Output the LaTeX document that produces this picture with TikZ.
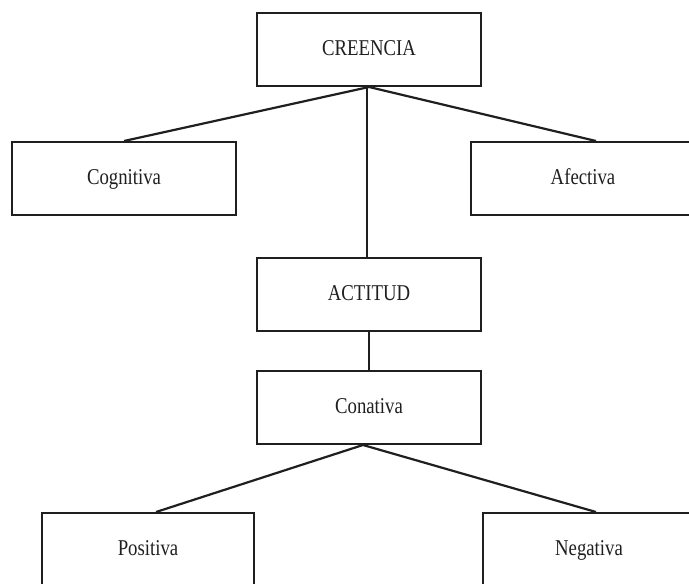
\documentclass[tikz,border=0pt]{standalone}
\usepackage{fontspec}
\setmainfont[FakeStretch=0.83]{Liberation Serif}
\usepackage{tikz}
\usetikzlibrary{positioning}
\usepackage{xcolor}
\definecolor{RichInk}{gray}{0.12}
\tikzset{%
  concept_block/.style={%
    draw=RichInk,%
    rectangle,%
    line width=1pt,%
    minimum width=112pt,%
    minimum height=36.5pt,%
    inner sep=0pt,%
    text height=8pt,%
    text depth=2pt,%
    font={\fontsize{11.3}{13}\selectfont},%
    text=RichInk,%
    align=center,%
  },
  leaf_block/.style={%
    concept_block,%
    minimum width=106pt,%
  },
  link_path/.style={%
    color=RichInk,%
    line join=round,%
    line width=1.1pt,%
  },
}
\begin{document}
\begin{tikzpicture}[x=0.5pt, y=-0.5pt]

    \useasboundingbox (0,0) rectangle (689,583);
    \clip (0,0) rectangle (689,583);

    \node [concept_block] (Creencia) at (369,49.5) {CREENCIA};
    \node [concept_block, below = 85pt of Creencia] (Actitud) {ACTITUD};
    \node [concept_block, below = 19pt of Actitud] (Conativa) {Conativa};
    \node [concept_block, below left = 27pt and 9.5pt of Creencia] (Cognitiva) {%
      Cognitiva%
    };
    \node [concept_block, below right = 27pt and -6pt of Creencia] (Afectiva) {%
      Afectiva%
    };
    \node [leaf_block, below left = 33.5pt and 0.5pt of Conativa] (Positiva) {%
      Positiva%
    };
    \node [leaf_block, below right = 33.5pt and 0pt of Conativa] (Negativa) {%
      Negativa%
    };

    \draw [link_path]
      (Creencia.south)
      --
      (Cognitiva.north);
    \draw [link_path]
      (Creencia.south)
      --
      ([xshift=6.5pt]Afectiva.north);
    \draw [link_path]
      ([xshift=-1pt]Creencia.south)
      --
      ([xshift=-1pt]Actitud.north);
    \draw [link_path]
      (Actitud.south)
      --
      (Conativa.north);
    \draw [link_path]
      ([xshift=-3pt]Conativa.south)
      --
      ([xshift=4pt]Positiva.north);
    \draw [link_path]
      ([xshift=-3pt]Conativa.south)
      --
      ([xshift=3.5pt]Negativa.north);
  \end{tikzpicture}
\end{document}
